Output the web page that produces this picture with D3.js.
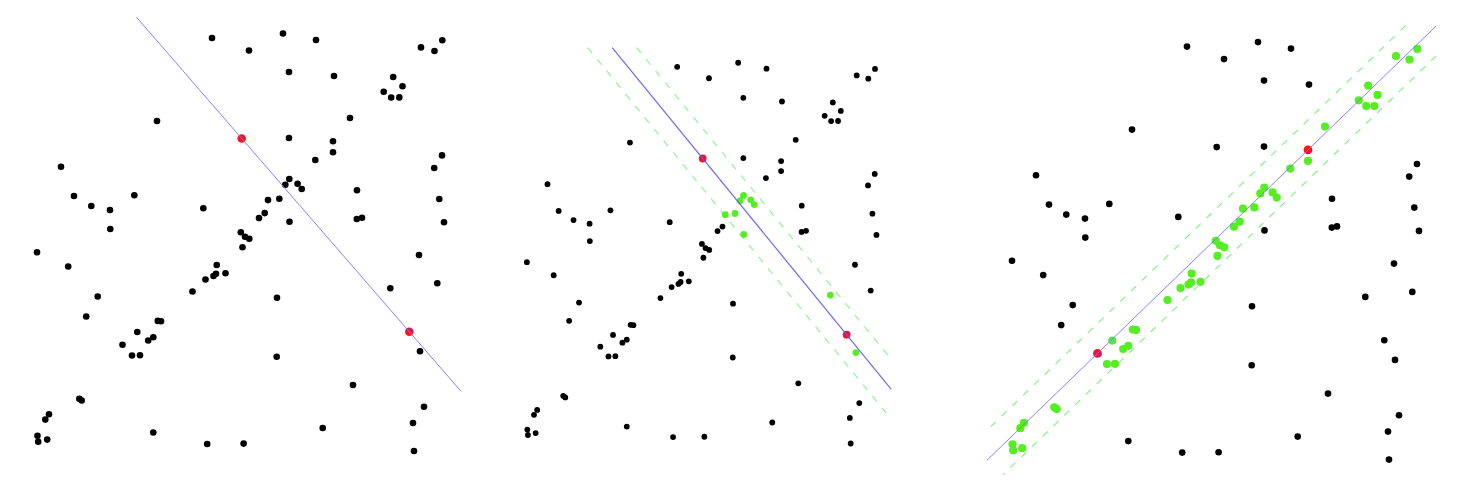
<!DOCTYPE html>
<html>
<head>
<meta charset="utf-8">
<script src="https://cdn.jsdelivr.net/npm/d3@7"></script>
<style>
    html, body { margin: 0; padding: 0; background: #fff; }
    svg { display: block; }
</style>
</head>
<body>
<svg width="1481" height="486"></svg>
<script>
// point cloud (same cloud in all three panels)
var ptX = [212, 249, 283, 316, 289, 334, 421, 442.3, 434.5, 393.2,
    402.5, 383.7, 391.2, 399.3, 350, 157, 241.7, 289, 333, 333,
    315.3, 442, 61, 434.2, 289.3, 285.3, 297.6, 301.7, 357, 74,
    134.3, 91.3, 110, 203.3, 268, 279.3, 439.3, 264.7, 259, 110.3,
    289.5, 356.8, 362, 444, 240.8, 245, 249.3, 242.5, 37, 419,
    68.2, 216.7, 205.5, 213.5, 216, 225.5, 192.5, 437.3, 390.3, 97.7,
    277, 86.2, 157.8, 161, 137.3, 153.3, 148.2, 409.3, 122.5, 132,
    140, 420, 276.7, 353, 79.3, 81.7, 49, 45.3, 424, 413,
    322.7, 37.5, 38.2, 47.2, 153.3, 207.2, 243.6, 414];
var ptY = [38, 50.5, 33.5, 40, 72, 76, 47.4, 40.3, 51, 77,
    86.3, 91.7, 97.5, 97.4, 118, 121, 138.5, 138, 141.3, 152.3,
    160, 155.4, 166.7, 168, 179, 184.8, 183.8, 189, 190.2, 196,
    195.3, 206, 210, 208.3, 200.1, 198.8, 199, 213.1, 218.1, 229,
    221.8, 219, 217.8, 222.3, 232.2, 236.7, 238.7, 247.3, 252.2, 255,
    266.5, 265, 279.5, 276, 273.8, 273.2, 291.5, 283.3, 288.3, 296.5,
    297.7, 316.5, 320.9, 321.3, 332, 337.2, 340.5, 331.7, 344.8, 355.5,
    355.2, 351.3, 356.7, 385, 398.7, 400.5, 414.2, 419.6, 406.7, 423,
    428, 435.7, 441.7, 439.6, 432.5, 444, 443.6, 451];

// the two random samples (indices into the cloud): bad guess, good guess
var sampleA = [16, 67];
var sampleB = [18, 68];
var threshold = 21.5;     // inlier distance
var box = {x0: 12, x1: 461, y0: 17, y1: 466};

var svg = d3.select("svg");

var panels = [
    {xr: [0, 460], yr: [0, 460], sample: sampleA, band: false, r: 3.3, rg: 4, rr: 4.3,
        line: "#7777ff", lw: 1, dash: "#7cf27c"},
    {xr: [495.1, 890.2], yr: [32.2, 451.7], sample: sampleA, band: true, r: 2.9, rg: 3.4, rr: 3.9,
        line: "#5a5af0", lw: 1.2, dash: "#8ef08e"},
    {xr: [975, 1435], yr: [8.6, 468.6], sample: sampleB, band: true, r: 3.3, rg: 4.1, rr: 4.4,
        line: "#7777ff", lw: 1, dash: "#7cf27c"}
];

// cut the infinite line through p along d down to the box
function clipLine(p, d) {
    var tmin = -Infinity, tmax = Infinity;
    [["x0", "x1", 0], ["y0", "y1", 1]].forEach(function (a) {
        if (d[a[2]] === 0) return;
        var t1 = (box[a[0]] - p[a[2]]) / d[a[2]];
        var t2 = (box[a[1]] - p[a[2]]) / d[a[2]];
        tmin = Math.max(tmin, Math.min(t1, t2));
        tmax = Math.min(tmax, Math.max(t1, t2));
    });
    return [[p[0] + d[0] * tmin, p[1] + d[1] * tmin], [p[0] + d[0] * tmax, p[1] + d[1] * tmax]];
}

function drawPanel(cfg) {
    var x = d3.scaleLinear().domain([0, 460]).range(cfg.xr);
    var y = d3.scaleLinear().domain([0, 460]).range(cfg.yr);
    var g = svg.append("g");

    var a = cfg.sample[0], b = cfg.sample[1];
    var p = [ptX[a], ptY[a]];
    var d = [ptX[b] - ptX[a], ptY[b] - ptY[a]];
    var len = Math.sqrt(d[0] * d[0] + d[1] * d[1]);
    var n = [-d[1] / len, d[0] / len];

    var pts = ptX.map(function (v, i) {
        var dist = Math.abs((v - p[0]) * n[0] + (ptY[i] - p[1]) * n[1]);
        var kind = "out";
        if (cfg.band && dist < threshold) kind = "in";
        if (i === a || i === b) kind = "sample";
        return {x: v, y: ptY[i], kind: kind};
    });

    var line = d3.line()
        .x(function (v) { return x(v[0]); })
        .y(function (v) { return y(v[1]); });

    if (cfg.band) {
        [-1, 1].forEach(function (s) {
            var q = [p[0] + n[0] * threshold * s, p[1] + n[1] * threshold * s];
            g.append("path")
                .datum(clipLine(q, d))
                .attr("fill", "none")
                .attr("stroke", cfg.dash)
                .attr("stroke-width", 1.1)
                .attr("stroke-dasharray", "7,8")
                .attr("d", line);
        });
    }

    var order = {out: 0, in: 1, sample: 2};
    pts.sort(function (u, v) { return order[u.kind] - order[v.kind]; });

    g.selectAll("circle")
        .data(pts)
        .enter()
        .append("circle")
        .attr("cx", function (v) { return x(v.x); })
        .attr("cy", function (v) { return y(v.y); })
        .attr("r", function (v) { return v.kind === "out" ? cfg.r : (v.kind === "in" ? cfg.rg : cfg.rr); })
        .attr("fill", function (v) {
            return v.kind === "out" ? "#000" : (v.kind === "in" ? "#55ee22" : "#ee1530");
        });

    g.append("path")
        .datum(clipLine(p, d))
        .attr("fill", "none")
        .attr("stroke", cfg.line)
        .attr("stroke-width", cfg.lw)
        .attr("stroke-opacity", 0.9)
        .attr("d", line);
}

panels.forEach(drawPanel);
</script>
</body>
</html>
